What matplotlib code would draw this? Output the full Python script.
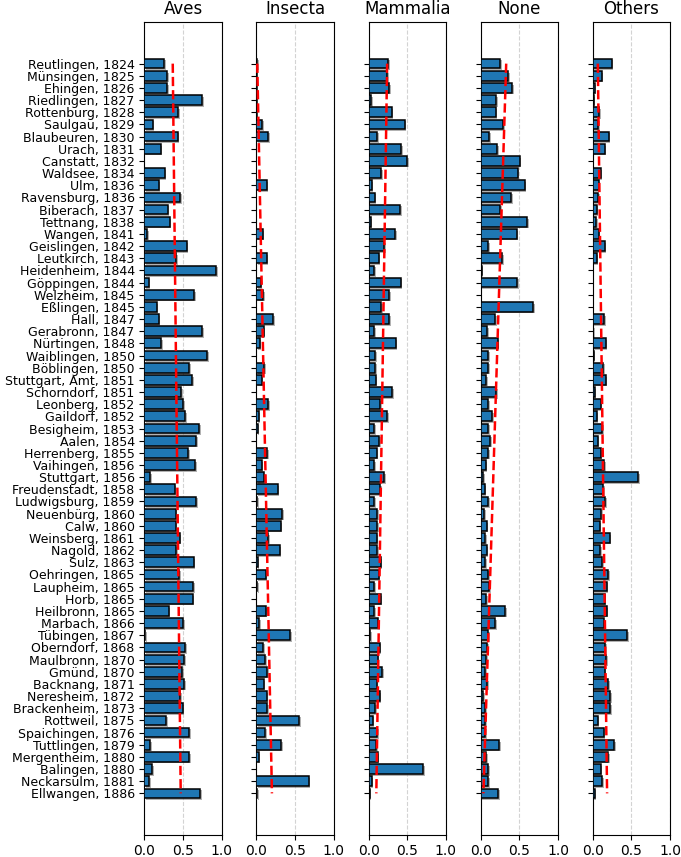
import numpy as np
from matplotlib import pyplot as plt
import matplotlib.patheffects as pe

districts = [
    "Reutlingen, 1824", "Münsingen, 1825", "Ehingen, 1826", "Riedlingen, 1827",
    "Rottenburg, 1828", "Saulgau, 1829", "Blaubeuren, 1830", "Urach, 1831",
    "Canstatt, 1832", "Waldsee, 1834", "Ulm, 1836", "Ravensburg, 1836",
    "Biberach, 1837", "Tettnang, 1838", "Wangen, 1841", "Geislingen, 1842",
    "Leutkirch, 1843", "Heidenheim, 1844", "Göppingen, 1844", "Welzheim, 1845",
    "Eßlingen, 1845", "Hall, 1847", "Gerabronn, 1847", "Nürtingen, 1848",
    "Waiblingen, 1850", "Böblingen, 1850", "Stuttgart, Amt, 1851", "Schorndorf, 1851",
    "Leonberg, 1852", "Gaildorf, 1852", "Besigheim, 1853", "Aalen, 1854",
    "Herrenberg, 1855", "Vaihingen, 1856", "Stuttgart, 1856", "Freudenstadt, 1858",
    "Ludwigsburg, 1859", "Neuenbürg, 1860", "Calw, 1860", "Weinsberg, 1861",
    "Nagold, 1862", "Sulz, 1863", "Oehringen, 1865", "Laupheim, 1865",
    "Horb, 1865", "Heilbronn, 1865", "Marbach, 1866", "Tübingen, 1867",
    "Oberndorf, 1868", "Maulbronn, 1870", "Gmünd, 1870", "Backnang, 1871",
    "Neresheim, 1872", "Brackenheim, 1873", "Rottweil, 1875", "Spaichingen, 1876",
    "Tuttlingen, 1879", "Mergentheim, 1880", "Balingen, 1880", "Neckarsulm, 1881",
    "Ellwangen, 1886",
]

aves = [0.254, 0.297, 0.297, 0.75, 0.435, 0.108, 0.43, 0.21, 0.0, 0.263,
        0.185, 0.465, 0.30, 0.328, 0.04, 0.547, 0.41, 0.927, 0.056, 0.647,
        0.16, 0.185, 0.746, 0.216, 0.81, 0.58, 0.616, 0.474, 0.504, 0.53,
        0.711, 0.672, 0.569, 0.655, 0.078, 0.392, 0.672, 0.405, 0.405, 0.457,
        0.414, 0.638, 0.453, 0.634, 0.625, 0.315, 0.50, 0.013, 0.526, 0.517,
        0.487, 0.517, 0.466, 0.496, 0.284, 0.578, 0.073, 0.582, 0.10, 0.065,
        0.724]
insecta = [0.005, 0.003, 0.003, 0.003, 0.003, 0.073, 0.147, 0.0, 0.0, 0.0,
           0.13, 0.0, 0.0, 0.0, 0.08, 0.0, 0.13, 0.0, 0.056, 0.086,
           0.0, 0.216, 0.095, 0.043, 0.0, 0.10, 0.069, 0.0, 0.15, 0.03,
           0.017, 0.0, 0.134, 0.069, 0.10, 0.276, 0.01, 0.328, 0.315, 0.155,
           0.30, 0.017, 0.12, 0.005, 0.0, 0.12, 0.035, 0.44, 0.086, 0.112,
           0.138, 0.095, 0.13, 0.134, 0.552, 0.116, 0.32, 0.03, 0.0, 0.677,
           0.01]
mammalia = [0.25, 0.237, 0.267, 0.03, 0.30, 0.466, 0.108, 0.422, 0.50, 0.16,
            0.04, 0.078, 0.405, 0.026, 0.345, 0.198, 0.13, 0.069, 0.414, 0.27,
            0.16, 0.27, 0.073, 0.35, 0.082, 0.082, 0.09, 0.306, 0.15, 0.241,
            0.069, 0.138, 0.103, 0.069, 0.20, 0.147, 0.069, 0.112, 0.112, 0.103,
            0.112, 0.155, 0.13, 0.069, 0.155, 0.069, 0.125, 0.017, 0.142, 0.116,
            0.177, 0.103, 0.142, 0.086, 0.052, 0.112, 0.10, 0.116, 0.703, 0.04,
            0.013]
none = [0.25, 0.353, 0.41, 0.203, 0.194, 0.293, 0.108, 0.216, 0.504, 0.478,
        0.569, 0.392, 0.254, 0.60, 0.466, 0.10, 0.28, 0.013, 0.474, 0.0,
        0.68, 0.185, 0.082, 0.22, 0.10, 0.10, 0.069, 0.198, 0.095, 0.147,
        0.095, 0.12, 0.095, 0.065, 0.034, 0.052, 0.095, 0.043, 0.078, 0.056,
        0.078, 0.06, 0.10, 0.108, 0.069, 0.315, 0.19, 0.10, 0.086, 0.069,
        0.06, 0.082, 0.034, 0.06, 0.056, 0.056, 0.241, 0.073, 0.095, 0.095,
        0.228]
others = [0.246, 0.116, 0.026, 0.013, 0.082, 0.069, 0.207, 0.155, 0.0, 0.103,
          0.078, 0.069, 0.052, 0.043, 0.078, 0.155, 0.052, 0.0, 0.0, 0.0,
          0.0, 0.15, 0.005, 0.168, 0.01, 0.138, 0.168, 0.026, 0.10, 0.052,
          0.12, 0.065, 0.10, 0.15, 0.586, 0.13, 0.164, 0.112, 0.09, 0.22,
          0.095, 0.12, 0.20, 0.18, 0.155, 0.18, 0.142, 0.448, 0.16, 0.177,
          0.155, 0.198, 0.224, 0.224, 0.065, 0.142, 0.28, 0.20, 0.10, 0.125,
          0.026]

groups = ["Aves", "Insecta", "Mammalia", "None", "Others"]
# trend line ends (first district, last district)
trend_start = [0.367, 0.01, 0.24, 0.33, 0.065]
trend_end = [0.47, 0.20, 0.10, 0.035, 0.185]


def make_plot():
    series = [aves, insecta, mammalia, none, others]
    y = np.arange(len(districts))
    fig, axes = plt.subplots(1, 5, figsize=(6.81, 8.57), dpi=100, sharey=True)
    fig.subplots_adjust(left=0.212, right=0.984, top=0.974, bottom=0.026, wspace=0.45)
    for i, ax in enumerate(axes):
        bars = ax.barh(y, series[i], height=0.8, color='#1f77b4', edgecolor='black',
                       linewidth=1.1, zorder=3)
        for b in bars:
            b.set_path_effects([pe.SimplePatchShadow(offset=(1.2, -1.2), shadow_rgbFace='gray',
                                                     alpha=0.6), pe.Normal()])
        ax.plot([trend_start[i], trend_end[i]], [y[0], y[-1]], color='red',
                linestyle='--', linewidth=1.8, zorder=4)
        ax.set_title(groups[i], fontsize=12)
        ax.set_xlim(0, 1)
        ax.set_xticks([0, 0.5, 1.0])
        ax.set_xticklabels(['0.0', '0.5', '1.0'])
        ax.tick_params(axis='x', labelsize=10)
        ax.xaxis.grid(True, linestyle='--', color='lightgray', linewidth=0.8, zorder=0)
        ax.set_axisbelow(True)
    axes[0].set_yticks(y)
    axes[0].set_yticklabels(districts, fontsize=9)
    axes[0].set_ylim(63.4, -3.4)
    for ax in axes[1:]:
        ax.tick_params(axis='y', labelleft=False)
    plt.savefig('out.png')
    plt.close()


if __name__ == "__main__":
    make_plot()
